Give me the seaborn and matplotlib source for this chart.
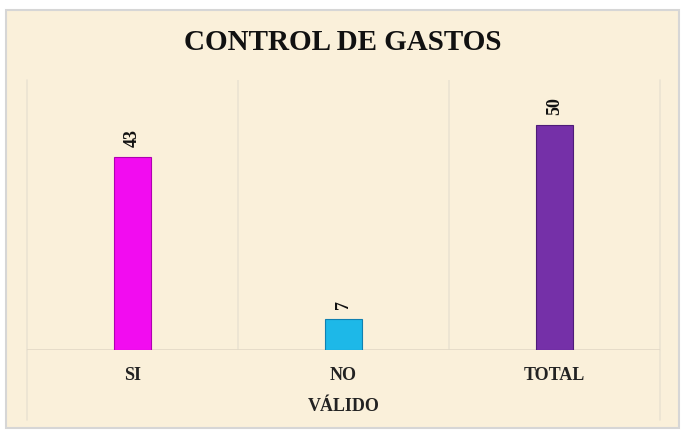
import numpy as np
import pandas as pd
import matplotlib
matplotlib.use('Agg')
import matplotlib.pyplot as plt
import seaborn as sns
from matplotlib.patches import Rectangle

categorias = ['SI', 'NO', 'TOTAL']
valores = [43, 7, 50]
colores = ['#f20cf0', '#1db8e8', '#7530a8']
bordes = ['#b000b0', '#1080b0', '#4e1c78']

sns.set_style('white')
plt.rcParams['font.family'] = ['Liberation Serif', 'DejaVu Serif']

fig = plt.figure(figsize=(6.86, 4.34), dpi=100)
fig.patch.set_facecolor('white')

# marco del grafico (fondo tipo pergamino)
fondo = Rectangle((6 / 686, 6 / 434), 673 / 686, 418 / 434, transform=fig.transFigure,
                  facecolor='#faf0da', edgecolor='#d6d6d6', linewidth=1.5, zorder=-10)
fig.patches.append(fondo)

ax = fig.add_axes([27 / 686, 1 - 350 / 434, 633 / 686, 270 / 434])
ax.set_facecolor('none')

df = pd.DataFrame({'cat': categorias, 'val': valores})
sns.barplot(data=df, x='cat', y='val', hue='cat', palette=colores, width=0.18,
            saturation=1, legend=False, ax=ax, zorder=3)

for p, b in zip(ax.patches, bordes):
    p.set_edgecolor(b)
    p.set_linewidth(0.8)

ax.set_ylim(0, 60)
ax.set_xlim(-0.5, 2.5)
ax.set_yticks([])

# lineas divisorias de categorias
gris = '#ebe3d2'
for x in [0.5, 1.5]:
    ax.axvline(x, color=gris, linewidth=1.2, zorder=1)
for x in [-0.5, 2.5]:
    ax.plot([x, x], [0, 60], color=gris, linewidth=1.2, zorder=1, clip_on=False)
    ax.plot([x, x], [0, -15.5], color=gris, linewidth=1.2, zorder=1, clip_on=False)
ax.axhline(0, color='#e2d9c6', linewidth=1.2, zorder=2)

for s in ax.spines.values():
    s.set_visible(False)

for i, v in enumerate(valores):
    ax.annotate(str(v), (i, v), xytext=(0, 7), textcoords='offset points',
                ha='center', va='bottom', rotation=90, fontsize=13,
                fontweight='bold', color='#111111')

ax.set_xticks(range(len(categorias)))
ax.set_xticklabels(categorias, fontsize=13, fontweight='bold', color='#222222')
ax.tick_params(axis='x', length=0, pad=12)
ax.set_xlabel('VÁLIDO', fontsize=13, fontweight='bold', color='#222222', labelpad=10)
ax.set_ylabel('')

fig.text(343 / 686, 1 - 42 / 434, 'CONTROL DE GASTOS', ha='center', va='center',
         fontsize=21, fontweight='bold', color='#111111')

fig.savefig('out.png', dpi=100)
